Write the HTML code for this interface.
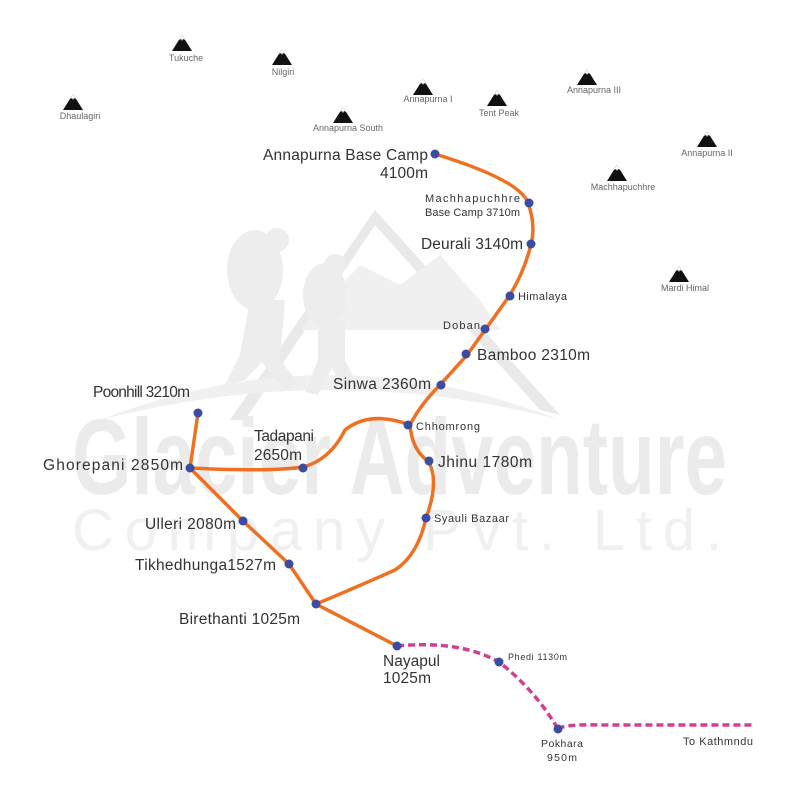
<!DOCTYPE html>
<html><head><meta charset="utf-8"><style>
body{margin:0;background:#fff}
svg{display:block}
text{font-family:"Liberation Sans",Arial,sans-serif}
</style></head><body>
<svg width="800" height="800" viewBox="0 0 800 800">
<defs>
<g id="mt"><path d="M-10,8 L0,-8 L10,8 Z" fill="#111"/><path d="M-3,-3 L0,-8 L3,-3 L1,-4 L0,-2 L-1,-4 Z" fill="#fff"/></g>
</defs>
<!-- watermark -->
<g fill="#ededed">
<path d="M230,420 L375,210 L560,415 L540,410 L375,225 L245,420 Z" fill="#e9e9e9"/>
<path d="M300,330 L360,265 L400,285 L440,255 L480,300 L500,330 Z" fill="#f0f0f0"/>
<path d="M100,420 Q330,330 560,420 Q330,360 100,420Z" fill="#f0f0f0"/>
<ellipse cx="255" cy="270" rx="28" ry="40"/>
<circle cx="277" cy="240" r="12"/>
<path d="M250,300 L285,300 L280,360 L300,385 L285,390 L262,362 L245,380 L225,385 L240,355 Z"/>
<ellipse cx="325" cy="295" rx="22" ry="32"/>
<circle cx="335" cy="265" r="11"/>
<path d="M318,320 L345,320 L345,360 L360,390 L345,392 L332,368 L318,395 L305,392 L318,360 Z"/>
<text x="72" y="494" font-size="108" font-weight="bold" fill="#ebebeb" textLength="655" lengthAdjust="spacingAndGlyphs">Glacier Adventure</text>
<text x="72" y="550" font-size="58" fill="#f0f0f0" textLength="658" lengthAdjust="spacing" letter-spacing="8">Company Pvt. Ltd.</text>
</g>
<!-- mountains -->
<g>
<use href="#mt" x="182" y="43"/><use href="#mt" x="282" y="57"/><use href="#mt" x="73" y="102"/>
<use href="#mt" x="423" y="87"/><use href="#mt" x="497" y="98"/><use href="#mt" x="587" y="77"/>
<use href="#mt" x="343" y="115"/><use href="#mt" x="707" y="139"/><use href="#mt" x="617" y="173"/><use href="#mt" x="679" y="274"/>
</g>
<g font-size="9" fill="#666" text-anchor="middle">
<text x="186" y="61">Tukuche</text><text x="283" y="75">Nilgiri</text><text x="80" y="119">Dhaulagiri</text>
<text x="428" y="102">Annapurna I</text><text x="499" y="116">Tent Peak</text><text x="594" y="93">Annapurna III</text>
<text x="348" y="131">Annapurna South</text><text x="707" y="156">Annapurna II</text><text x="623" y="190">Machhapuchhre</text><text x="685" y="291">Mardi Himal</text>
</g>
<!-- routes -->
<g fill="none" stroke="#f07022" stroke-width="3.5" stroke-linecap="round">
<path d="M435,154 Q520,180 528,203 Q536,225 531,244 Q525,270 510,295 L485,330 L467,355 L440,385 Q420,405 410,425"/>
<path d="M410,425 Q412,450 428,461 Q440,480 426,518 Q418,555 395,570 Q350,590 316,604"/>
<path d="M410,425 Q370,410 345,430 Q330,460 303,467 Q270,472 190,468"/>
<path d="M198,413 L190,468 L243,521 L289,564 L316,604 L397,646"/>
</g>
<g fill="none" stroke="#d0408f" stroke-width="3.5" stroke-dasharray="7,4">
<path d="M397,646 Q460,640 499,662 Q535,690 558,729"/>
<path d="M558,729 Q565,724 600,725 L755,725"/>
</g>
<g fill="#3a4da0">
<circle cx="435" cy="154" r="4.5"/><circle cx="529" cy="203" r="4.5"/><circle cx="531" cy="244" r="4.5"/>
<circle cx="510" cy="296" r="4.5"/><circle cx="485" cy="329" r="4.5"/><circle cx="466" cy="354" r="4.5"/>
<circle cx="441" cy="385" r="4.5"/><circle cx="408" cy="425" r="4.5"/><circle cx="429" cy="461" r="4.5"/>
<circle cx="426" cy="518" r="4.5"/><circle cx="198" cy="413" r="4.5"/><circle cx="190" cy="468" r="4.5"/>
<circle cx="303" cy="468" r="4.5"/><circle cx="243" cy="521" r="4.5"/><circle cx="289" cy="564" r="4.5"/>
<circle cx="316" cy="604" r="4.5"/><circle cx="397" cy="646" r="4.5"/><circle cx="499" cy="662" r="4.5"/><circle cx="558" cy="729" r="4.5"/>
</g>
<g fill="#333" font-size="15.5" lengthAdjust="spacingAndGlyphs">
<text x="263" y="160" textLength="165">Annapurna Base Camp</text>
<text x="380" y="178" textLength="48">4100m</text>
<text x="425" y="202" font-size="11" textLength="95">Machhapuchhre</text>
<text x="425" y="216" font-size="11" textLength="95">Base Camp 3710m</text>
<text x="421" y="249" textLength="102">Deurali 3140m</text>
<text x="518" y="300" font-size="11" textLength="49">Himalaya</text>
<text x="443" y="329" font-size="11" textLength="37">Doban</text>
<text x="477" y="360" textLength="113">Bamboo 2310m</text>
<text x="333" y="389" textLength="98">Sinwa 2360m</text>
<text x="416" y="430" font-size="11" textLength="64">Chhomrong</text>
<text x="438" y="467" textLength="94">Jhinu 1780m</text>
<text x="434" y="522" font-size="11" textLength="75">Syauli Bazaar</text>
<text x="93" y="397" textLength="97">Poonhill 3210m</text>
<text x="43" y="470" textLength="140">Ghorepani 2850m</text>
<text x="254" y="441" textLength="60">Tadapani</text>
<text x="254" y="460" textLength="48">2650m</text>
<text x="145" y="529" textLength="91">Ulleri 2080m</text>
<text x="135" y="570" textLength="141">Tikhedhunga1527m</text>
<text x="179" y="624" textLength="121">Birethanti 1025m</text>
<text x="383" y="666" textLength="57">Nayapul</text>
<text x="383" y="683" textLength="48">1025m</text>
<text x="508" y="660" font-size="9" textLength="59">Phedi 1130m</text>
<text x="541" y="747" font-size="10.5" textLength="42">Pokhara</text>
<text x="547" y="761" font-size="10.5" textLength="30">950m</text>
<text x="683" y="745" font-size="11" textLength="70">To Kathmndu</text>
</g>
</svg>
</body></html>
